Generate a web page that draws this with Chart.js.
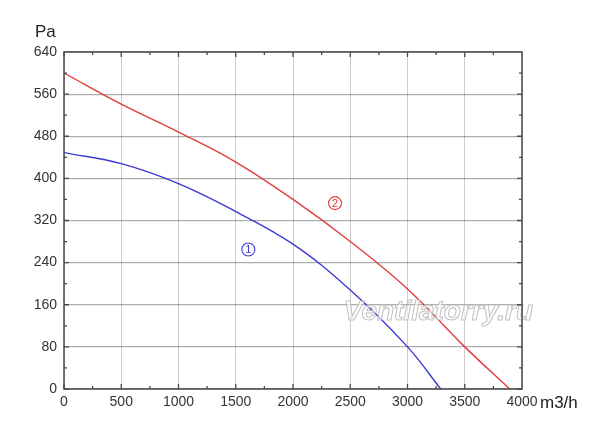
<!DOCTYPE html>
<html>
<head>
<meta charset="utf-8">
<script src="https://cdn.jsdelivr.net/npm/chart.js@4/dist/chart.umd.min.js"></script>
<style>
html,body{margin:0;padding:0;background:#fff;}
canvas{display:block;}
</style>
</head>
<body>
<canvas id="c" width="600" height="426"></canvas>
<script>
// ---- data ----
const flowTicks = [0, 500, 1000, 1500, 2000, 2500, 3000, 3500, 4000];
const paTicks = [0, 80, 160, 240, 320, 400, 480, 560, 640];

const curve1Flow = [0, 500, 1000, 1500, 2000, 2500, 3000, 3290];
const curve1Pa   = [449, 428, 390, 337, 275, 188, 80, 0];

const curve2Flow = [0, 500, 1000, 1500, 2000, 2500, 3000, 3500, 3892];
const curve2Pa   = [600, 541, 488, 431, 360, 280, 190, 80, 0];

const curveLabels = ['1', '2'];
const labelFlow = [1610, 2367];
const labelPa = [265, 353];

const xUnit = 'm3/h';
const yUnit = 'Pa';
const watermark = 'Ventilatorry.ru';

const colors = ['#3a3ad2', '#e23c3c'];
const FONT = '"Liberation Sans", Arial, sans-serif';

function pts(xs, ys) { return xs.map((x, i) => ({x: x, y: ys[i]})); }

const framePlugin = {
  id: 'frame',
  afterDatasetsDraw(chart) {
    const ctx = chart.ctx, a = chart.chartArea;
    const xs = chart.scales.x, ys = chart.scales.y;
    ctx.save();
    // watermark
    ctx.font = 'italic bold 28px ' + FONT;
    ctx.textAlign = 'center';
    ctx.textBaseline = 'middle';
    const wx = xs.getPixelForValue(3270), wy = ys.getPixelForValue(145);
    ctx.fillStyle = 'rgba(255,255,255,0.6)';
    ctx.fillText(watermark, wx, wy);
    ctx.lineWidth = 1.1;
    ctx.strokeStyle = 'rgba(190,190,190,0.9)';
    ctx.strokeText(watermark, wx, wy);

    // frame
    ctx.strokeStyle = '#4a4a4a';
    ctx.lineWidth = 1.5;
    ctx.strokeRect(a.left, a.top, a.right - a.left, a.bottom - a.top);
    // inward ticks
    ctx.lineWidth = 1.3;
    ctx.beginPath();
    for (let i = 0; i < flowTicks.length - 1; i++) {
      const v0 = flowTicks[i], v1 = flowTicks[i + 1];
      [[v0, 5], [(v0 + v1) / 2, 3]].forEach(([v, L]) => {
        const p = xs.getPixelForValue(v);
        ctx.moveTo(p, a.bottom); ctx.lineTo(p, a.bottom - L);
        ctx.moveTo(p, a.top); ctx.lineTo(p, a.top + L);
      });
    }
    for (let i = 0; i < paTicks.length - 1; i++) {
      const v0 = paTicks[i], v1 = paTicks[i + 1];
      [[v0, 5], [(v0 + v1) / 2, 3]].forEach(([v, L]) => {
        const p = ys.getPixelForValue(v);
        ctx.moveTo(a.left, p); ctx.lineTo(a.left + L, p);
        ctx.moveTo(a.right, p); ctx.lineTo(a.right - L, p);
      });
    }
    ctx.stroke();

    // curve labels (circled numbers)
    ctx.lineWidth = 1.1;
    ctx.font = '11px ' + FONT;
    ctx.textAlign = 'center';
    ctx.textBaseline = 'middle';
    for (let i = 0; i < curveLabels.length; i++) {
      const px = xs.getPixelForValue(labelFlow[i]), py = ys.getPixelForValue(labelPa[i]);
      ctx.strokeStyle = colors[i];
      ctx.fillStyle = colors[i];
      ctx.beginPath();
      ctx.arc(px, py, 6.5, 0, Math.PI * 2);
      ctx.stroke();
      ctx.fillText(curveLabels[i], px, py + 0.5);
    }

    // unit labels
    ctx.fillStyle = '#222';
    ctx.font = '17px ' + FONT;
    ctx.textAlign = 'left';
    ctx.textBaseline = 'middle';
    ctx.fillText(yUnit, a.left - 29, a.top - 20);
    ctx.fillText(xUnit, a.right + 18, a.bottom + 14);
    ctx.restore();
  }
};

new Chart(document.getElementById('c'), {
  type: 'scatter',
  data: {
    datasets: [
      { label: 'curve 1', data: pts(curve1Flow, curve1Pa), showLine: true, borderColor: colors[0], borderWidth: 1.4, pointRadius: 0, tension: 0.4, fill: false },
      { label: 'curve 2', data: pts(curve2Flow, curve2Pa), showLine: true, borderColor: colors[1], borderWidth: 1.4, pointRadius: 0, tension: 0.4, fill: false }
    ]
  },
  options: {
    responsive: false,
    animation: false,
    devicePixelRatio: 1,
    layout: { padding: { left: 0, top: 52, right: 78, bottom: 0 } },
    plugins: { legend: { display: false }, tooltip: { enabled: false } },
    scales: {
      x: {
        type: 'linear', min: 0, max: 4000,
        afterBuildTicks: s => { s.ticks = flowTicks.map(v => ({value: v})); },
        afterFit: s => { s.height = 37; },
        ticks: { color: '#333', font: { size: 14, family: FONT }, padding: 5, maxRotation: 0, callback: v => String(v) },
        grid: { color: 'rgba(0,0,0,0.2)', lineWidth: 1, drawTicks: false },
        border: { display: false }
      },
      y: {
        type: 'linear', min: 0, max: 640,
        afterBuildTicks: s => { s.ticks = paTicks.map(v => ({value: v})); },
        afterFit: s => { s.width = 64; },
        ticks: { color: '#333', font: { size: 14, family: FONT }, padding: 7, callback: v => String(v) },
        grid: { color: 'rgba(0,0,0,0.32)', lineWidth: 1.2, drawTicks: false },
        border: { display: false }
      }
    }
  },
  plugins: [framePlugin]
});
</script>
</body>
</html>
